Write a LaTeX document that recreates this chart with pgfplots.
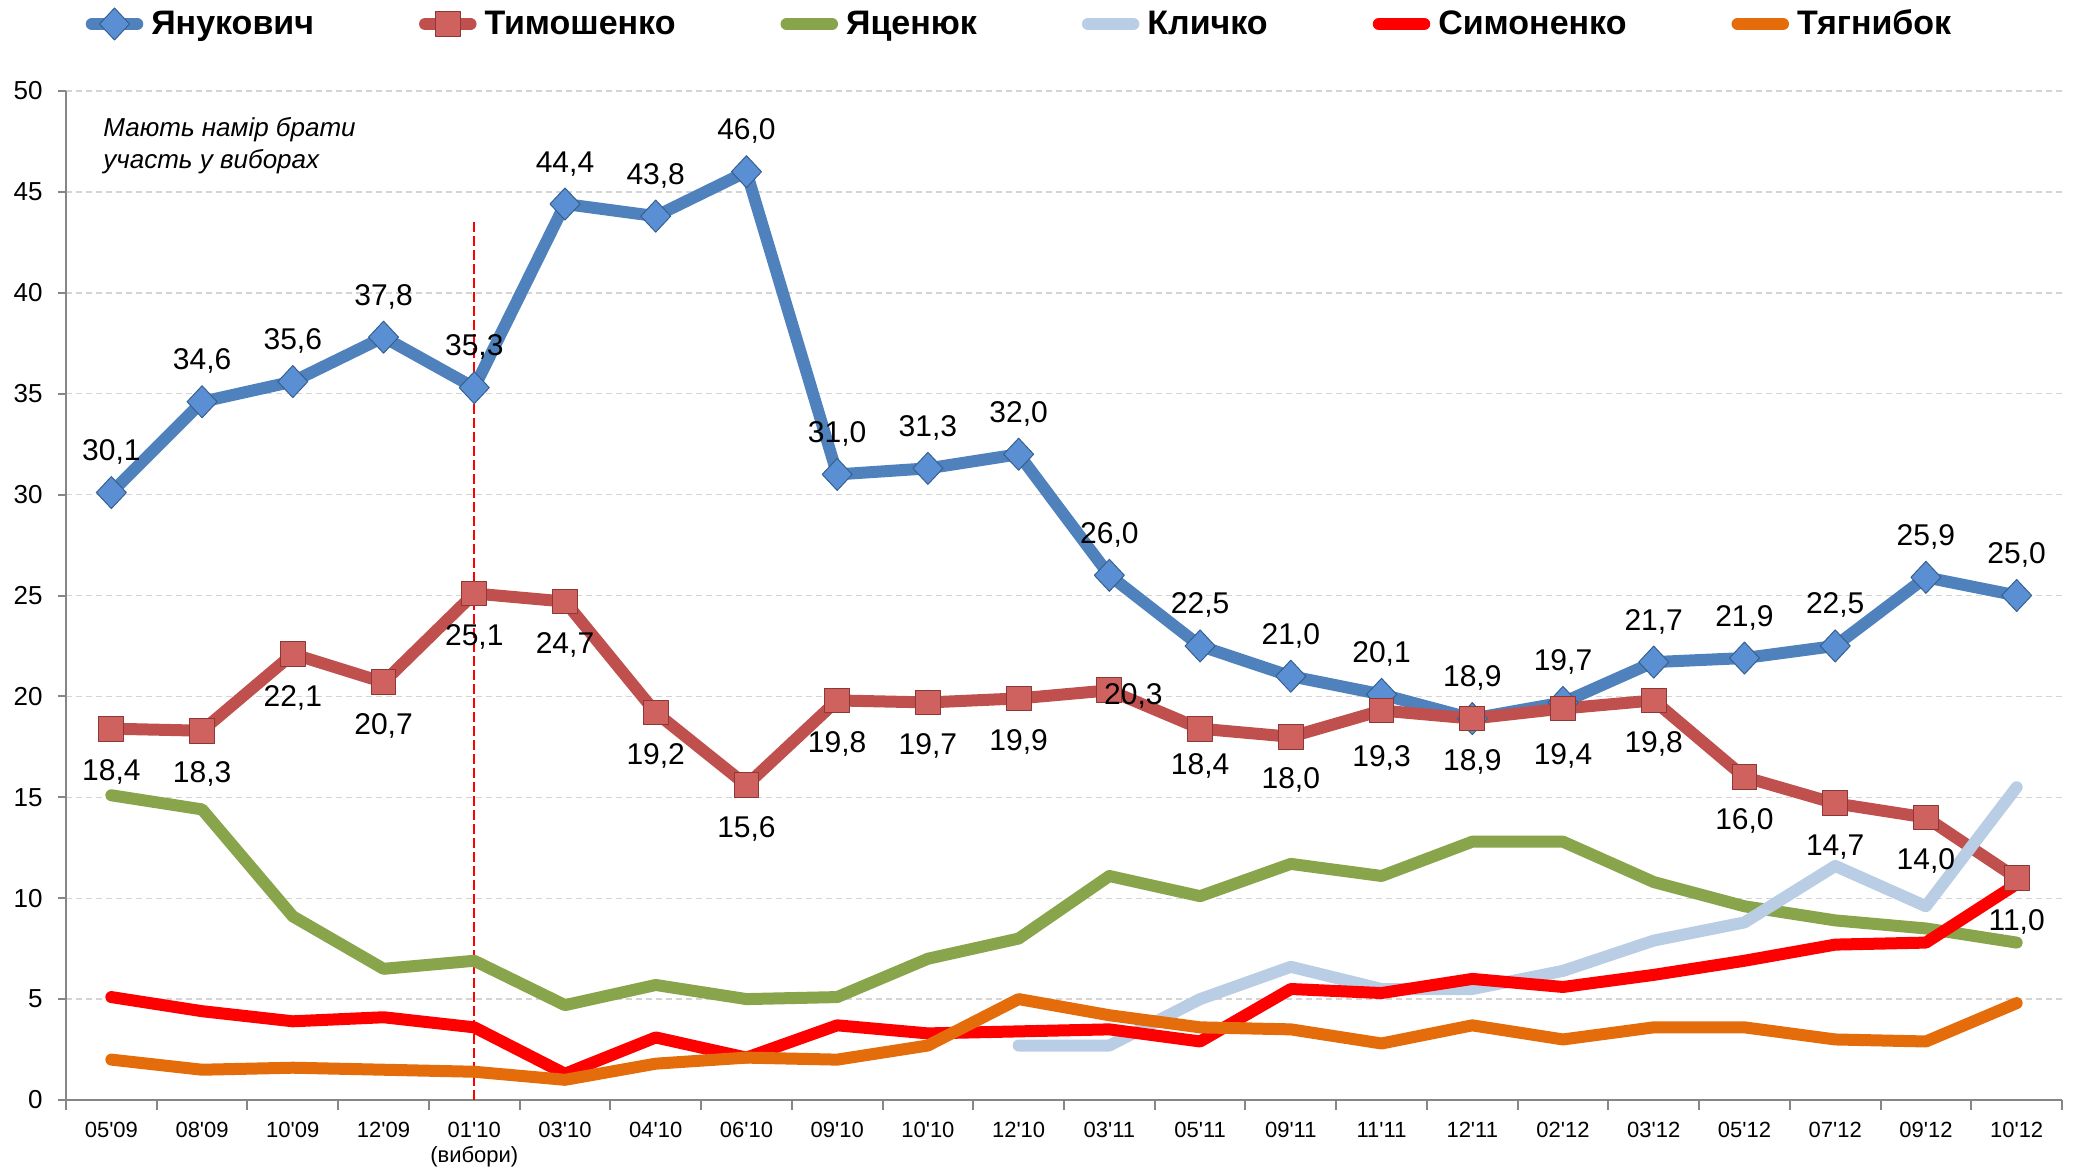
\documentclass[border=0pt]{standalone}
\usepackage{pgfplots}
\pgfplotsset{compat=1.18}
\usepackage{pgfplotstable}
\usepackage{fontspec}
\setmainfont{Liberation Sans}[Ligatures=TeXOff]

\definecolor{cYan}{HTML}{4F81BD}
\definecolor{cYanMark}{HTML}{5B8FD3}
\definecolor{cYanDark}{HTML}{35608F}
\definecolor{cTym}{HTML}{C0504D}
\definecolor{cTymMark}{HTML}{CF625E}
\definecolor{cTymDark}{HTML}{8C3836}
\definecolor{cYac}{HTML}{88A54B}
\definecolor{cKly}{HTML}{B9CDE5}
\definecolor{cSym}{HTML}{FF0000}
\definecolor{cTya}{HTML}{E46C0A}
\definecolor{axisgray}{HTML}{868686}
\definecolor{gridgray}{HTML}{D4D4D4}

\pgfplotstableread{
x yan tym yac kly sym tya tdx tdy
0 30.1 18.4 15.1 nan 5.1 2.0 0 -26
1 34.6 18.3 14.4 nan 4.4 1.5 0 -26
2 35.6 22.1 9.1 nan 3.9 1.6 0 -26
3 37.8 20.7 6.5 nan 4.1 1.5 0 -26
4 35.3 25.1 6.9 nan 3.6 1.4 0 -26
5 44.4 24.7 4.7 nan 1.3 1.0 0 -26
6 43.8 19.2 5.7 nan 3.1 1.8 0 -26
7 46.0 15.6 5.0 nan 2.1 2.1 0 -26
8 31.0 19.8 5.1 nan 3.7 2.0 0 -26
9 31.3 19.7 7.0 nan 3.3 2.7 0 -26
10 32.0 19.9 8.0 2.7 3.4 5.0 0 -26
11 26.0 20.3 11.1 2.7 3.5 4.2 12 -7
12 22.5 18.4 10.1 5.0 2.9 3.6 0 -23
13 21.0 18.0 11.7 6.6 5.5 3.5 0 -26
14 20.1 19.3 11.1 5.5 5.3 2.8 0 -28
15 18.9 18.9 12.8 5.5 6.0 3.7 0 -26
16 19.7 19.4 12.8 6.4 5.6 3.0 0 -28
17 21.7 19.8 10.8 7.9 6.2 3.6 0 -26
18 21.9 16.0 9.6 8.8 6.9 3.6 0 -26
19 22.5 14.7 8.9 11.6 7.7 3.0 0 -26
20 25.9 14.0 8.5 9.6 7.8 2.9 0 -26
21 25.0 11.0 7.8 15.5 10.7 4.8 0 -26
}\data

\begin{document}
\begin{tikzpicture}
\useasboundingbox (-33pt,-33.5pt) rectangle (1006pt,550pt);
\begin{axis}[
  at={(0pt,0pt)}, anchor=south west,
  scale only axis, width=998pt, height=504.5pt,
  xmin=-0.5, xmax=21.5, ymin=0, ymax=50,
  clip=false,
  axis lines*=left,
  axis line style={draw=axisgray, line width=1pt},
  xtick={0,...,21},
  xticklabels={05'09,08'09,10'09,12'09,{01'10\\(вибори)},03'10,04'10,06'10,09'10,10'10,12'10,03'11,05'11,09'11,11'11,12'11,02'12,03'12,05'12,07'12,09'12,10'12},
  major x tick style={draw=none},
  minor xtick={-0.5,0.5,...,21.5},
  minor x tick style={draw=axisgray, line width=1pt},
  minor tick length=5pt,
  ytick={0,5,...,50},
  major tick length=4pt,
  tick align=outside,
  y tick style={draw=axisgray, line width=1pt},
  ymajorgrids,
  grid style={draw=gridgray, line width=0.7pt, dash pattern=on 3pt off 2pt},
  xticklabel style={font=\fontsize{11}{12.5}\selectfont, align=center, anchor=north, inner sep=0pt, yshift=-7pt},
  yticklabel style={font=\fontsize{13}{14}\selectfont, anchor=east, inner sep=0pt, xshift=-7.5pt},
  /pgf/number format/assume math mode=true,
  legend style={at={(axis description cs:0.0097,1.0664)}, anchor=west, draw=none, fill=none, inner sep=0pt,
    font=\bfseries\fontsize{17}{20}\selectfont,
    /tikz/every even column/.append style={column sep=48.5pt},
    nodes={inner xsep=4pt, inner ysep=1pt}},
  legend columns=6,
  legend cell align=left,
  legend image code/.code={\draw[mark repeat=2,mark phase=2,#1] plot coordinates {(0cm,0cm) (0.4cm,0cm) (0.8cm,0cm)};},
  every axis plot/.append style={line cap=round, line join=round, line width=6pt},
]
\draw[cSym, line width=0.8pt, dash pattern=on 5pt off 2pt] (axis cs:4,0) -- (axis cs:4,43.5);

\addplot[color=cYan, mark=diamond*, mark size=8pt,
  mark options={solid, fill=cYanMark, draw=cYanDark, line width=0.5pt, xscale=1.25},
  point meta=explicit,
  nodes near coords={\pgfmathprintnumber[fixed,fixed zerofill,precision=1,use comma]{\pgfplotspointmeta}},
  every node near coord/.append style={text=black, font=\fontsize{15}{17}\selectfont, anchor=base, inner sep=0pt, yshift=16pt}]
  table[x=x, y=yan, meta=yan]{\data};
\addlegendentry{Янукович}

\addplot[color=cTym, mark=square*, mark size=6.2pt,
  mark options={solid, fill=cTymMark, draw=cTymDark, line width=0.5pt},
  point meta=explicit,
  visualization depends on={\thisrow{tdx}\as\tdx},
  visualization depends on={\thisrow{tdy}\as\tdy},
  nodes near coords={\pgfmathprintnumber[fixed,fixed zerofill,precision=1,use comma]{\pgfplotspointmeta}},
  every node near coord/.append style={text=black, font=\fontsize{15}{17}\selectfont, anchor=base, inner sep=0pt, xshift=\tdx pt, yshift=\tdy pt}]
  table[x=x, y=tym, meta=tym]{\data};
\addlegendentry{Тимошенко}

\addplot[color=cYac, mark=none] table[x=x, y=yac]{\data};
\addlegendentry{Яценюк}

\addplot[color=cKly, mark=none] table[x=x, y=kly]{\data};
\addlegendentry{Кличко}

\addplot[color=cSym, mark=none] table[x=x, y=sym]{\data};
\addlegendentry{Симоненко}

\addplot[color=cTya, mark=none] table[x=x, y=tya]{\data};
\addlegendentry{Тягнибок}

\node[anchor=north west, inner sep=0pt, align=left, font=\itshape\fontsize{13}{16}\selectfont] at (axis cs:-0.092,48.7) {Мають намір брати\\участь у виборах};
\end{axis}
\end{tikzpicture}
\end{document}
